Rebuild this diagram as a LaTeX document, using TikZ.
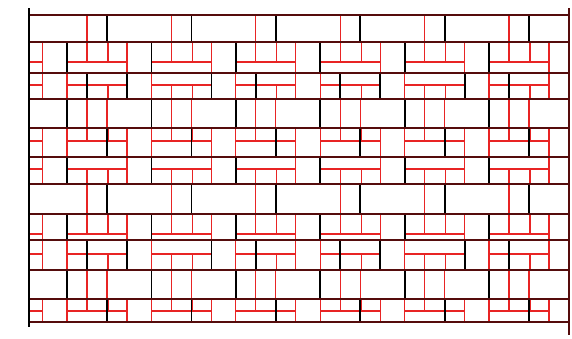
\documentclass[tikz,border=0pt]{standalone}
\definecolor{jointred}{RGB}{232,36,36}
\definecolor{courseline}{RGB}{85,12,12}
\begin{document}
\begin{tikzpicture}[x=1pt, y=-1pt,
        course/.style={line width=1.6pt, courseline},
        joint/.style={line width=1.8pt, black},
        redjoint/.style={line width=1.1pt, jointred}]
        \useasboundingbox (0,0) rectangle (572,338);
        \def\P{84.4}

        % ==== RED JOINTS (LOWER LAYER) ====
        \begin{scope}
        \clip (29,15) rectangle (569,322);
        \foreach \i in {-1,...,6}{
            \pgfmathsetmacro{\bx}{67+\P*\i}
            % stretcher courses
            \foreach \ya/\yb in {15/42, 184/214}{
                \draw[redjoint] (\bx+20,\ya) -- (\bx+20,\yb);
            }
            \foreach \ya/\yb in {99/128, 270/299}{
                \draw[redjoint] (\bx+20,\ya) -- (\bx+20,\yb);
                \draw[redjoint] (\bx+40,\ya) -- (\bx+40,\yb);
            }
            % upper courses of the bands
            \foreach \ya/\ym/\yb in {42/62/73, 128/141/157, 214/234/240, 299/311/322}{
                \draw[redjoint] (\bx,\ym) -- (\bx+60,\ym);
                \draw[redjoint] (\bx+20,\ya) -- (\bx+20,\ym);
                \draw[redjoint] (\bx+41,\ya) -- (\bx+41,\ym);
                \draw[redjoint] (\bx,\ya) -- (\bx,\yb);
                \draw[redjoint] (\bx+60,\ya) -- (\bx+60,\yb);
            }
            % lower courses of the bands
            \foreach \ya/\ym/\yb in {73/85/99, 157/169/184, 240/254/270}{
                \draw[redjoint] (\bx,\ym) -- (\bx+60,\ym);
                \draw[redjoint] (\bx+20,\ym) -- (\bx+20,\yb);
                \draw[redjoint] (\bx+41,\ym) -- (\bx+41,\yb);
                \draw[redjoint] (\bx,\ya) -- (\bx,\yb);
                \draw[redjoint] (\bx+60,\ya) -- (\bx+60,\yb);
            }
        }

        % ==== BLACK JOINTS (UPPER LAYER) ====
        \foreach \i in {-1,...,6}{
            \pgfmathsetmacro{\bx}{67+\P*\i}
            \foreach \ya/\yb in {15/42, 128/157, 184/214, 299/322}{
                \draw[joint] (\bx+40,\ya) -- (\bx+40,\yb);
            }
            \foreach \ya/\yb in {42/73, 99/128, 157/184, 214/240, 270/299}{
                \draw[joint] (\bx,\ya) -- (\bx,\yb);
            }
        }
        % flemish courses: header, stretcher, header, stretcher
        \foreach \k in {-1,0,1,2}{
            \pgfmathsetmacro{\fx}{67+3*\P*\k}
            \foreach \dx in {20, 60, \P+60, 2*\P+20}{
                \foreach \ya/\yb in {73/99, 240/270}{
                    \draw[joint] (\fx+\dx,\ya) -- (\fx+\dx,\yb);
                }
            }
        }
        \end{scope}

        % ==== COURSES ====
        \foreach \y in {15,42,73,99,128,157,184,214,240,270,299,322}{
            \draw[course] (29,\y) -- (569,\y);
        }

        % ==== ENDS OF THE WALL ====
        \draw[line width=2.2pt, black] (29,8) -- (29,327);
        \draw[line width=2.2pt, courseline] (569,8) -- (569,335);
\end{tikzpicture}
\end{document}
